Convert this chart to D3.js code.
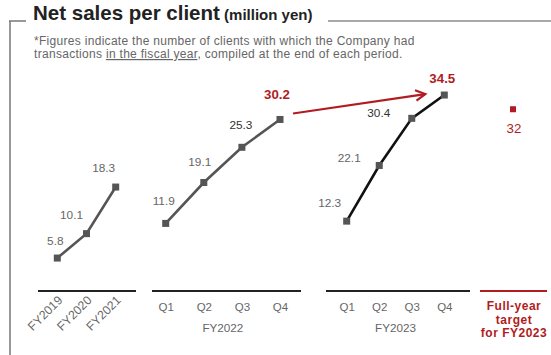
<!DOCTYPE html>
<html>
<head>
<meta charset="utf-8">
<script src="https://cdn.jsdelivr.net/npm/d3@7/dist/d3.min.js"></script>
<style>
  html, body { margin: 0; padding: 0; background: #fff; }
  svg { display: block; font-family: "Liberation Sans", Arial, Helvetica, sans-serif; }
</style>
</head>
<body>
<svg id="chart" width="551" height="355"></svg>
<script>
// Net sales per client (million yen)
const annualCats = ["FY2019", "FY2020", "FY2021"];
const annualValues = [5.8, 10.1, 18.3];

const quarterCats = ["Q1", "Q2", "Q3", "Q4"];
const fy2022Values = [11.9, 19.1, 25.3, 30.2];
const fy2023Values = [12.3, 22.1, 30.4, 34.5];

const targetCats = ["Full-year target for FY2023"];
const targetValues = [32];

const groupLabels = ["FY2022", "FY2023"];

const RED = "#b01c22";
const GRAY = "#555";
const TEXT = "#666";

const svg = d3.select("#chart");

// ---- frame and heading ----
svg.append("line").attr("x1", 10).attr("x2", 10).attr("y1", 21).attr("y2", 355)
  .attr("stroke", "#999").attr("stroke-width", 2);
svg.append("line").attr("x1", 9).attr("x2", 26).attr("y1", 21).attr("y2", 21)
  .attr("stroke", "#777").attr("stroke-width", 1.5);
svg.append("line").attr("x1", 328).attr("x2", 551).attr("y1", 21).attr("y2", 21)
  .attr("stroke", "#555").attr("stroke-width", 1.2);

const title = svg.append("text").attr("x", 33).attr("y", 20)
  .attr("fill", "#222").attr("font-weight", "bold");
title.append("tspan").attr("font-size", "20.5px").text("Net sales per client");
title.append("tspan").attr("font-size", "15px").text(" (million yen)");

const note = svg.append("g").attr("fill", TEXT).attr("font-size", "12px")
  .attr("letter-spacing", "0.3px");
note.append("text").attr("x", 34).attr("y", 44.5)
  .text("*Figures indicate the number of clients with which the Company had");
const note2 = note.append("text").attr("x", 34).attr("y", 58);
note2.append("tspan").text("transactions ");
note2.append("tspan").attr("text-decoration", "underline").text("in the fiscal year");
note2.append("tspan").text(", compiled at the end of each period.");

// ---- scales ----
const y = d3.scaleLinear().domain([0, 40]).range([291, 291 - 40 * 5.68]);

const xAnnual = d3.scalePoint().domain(annualCats).range([57.3, 115.7]);
const x2022 = d3.scalePoint().domain(quarterCats).range([165.7, 280]);
const x2023 = d3.scalePoint().domain(quarterCats).range([346.7, 444.3]);
const xTarget = d3.scalePoint().domain(targetCats).range([513, 513]);

const axisY = 291;

// ---- axis baselines ----
const baselines = [
  { x1: 38, x2: 136, color: "#222" },
  { x1: 152, x2: 301, color: "#222" },
  { x1: 326, x2: 470, color: "#222" },
  { x1: 480, x2: 547, color: RED }
];
svg.append("g").selectAll("line").data(baselines).join("line")
  .attr("x1", d => d.x1).attr("x2", d => d.x2)
  .attr("y1", axisY).attr("y2", axisY)
  .attr("stroke", d => d.color).attr("stroke-width", 2);

// ---- category labels ----
svg.append("g").selectAll("text").data(annualCats).join("text")
  .attr("transform", d => `translate(${xAnnual(d) + 6},${axisY + 10}) rotate(-45)`)
  .attr("text-anchor", "end").attr("font-size", "12.3px").attr("fill", TEXT)
  .text(d => d);

function quarterAxis(scale, label) {
  const g = svg.append("g").attr("transform", `translate(0,${axisY + 8})`)
    .call(d3.axisBottom(scale).tickSize(0).tickPadding(4));
  g.select(".domain").remove();
  g.selectAll("text").attr("font-size", "11.5px").attr("fill", TEXT)
    .attr("font-family", null);
  const ext = scale.range();
  svg.append("text").attr("x", (ext[0] + ext[1]) / 2).attr("y", axisY + 41)
    .attr("text-anchor", "middle").attr("font-size", "11.7px").attr("fill", TEXT)
    .text(label);
}
quarterAxis(x2022, groupLabels[0]);
quarterAxis(x2023, groupLabels[1]);

// target caption, one text per line
["Full-year", "target", "for FY2023"].forEach((s, i) => {
  svg.append("text").attr("x", xTarget(targetCats[0]) + 1)
    .attr("y", axisY + 19 + i * 13.6)
    .attr("text-anchor", "middle").attr("font-size", "12px")
    .attr("letter-spacing", "0.5px")
    .attr("font-weight", "bold").attr("fill", RED).text(s);
});

// ---- series ----
function series(cats, values, scale, lineColor) {
  const pts = cats.map((c, i) => [scale(c), y(values[i])]);
  svg.append("path").attr("d", d3.line()(pts))
    .attr("fill", "none").attr("stroke", lineColor).attr("stroke-width", 2.6);
  svg.append("g").selectAll("rect").data(pts).join("rect")
    .attr("x", d => d[0] - 3.5).attr("y", d => d[1] - 3.5)
    .attr("width", 7).attr("height", 7).attr("fill", GRAY);
  return pts;
}
const pA = series(annualCats, annualValues, xAnnual, GRAY);
const pB = series(quarterCats, fy2022Values, x2022, GRAY);
const pC = series(quarterCats, fy2023Values, x2023, "#111");

// target marker
const tp = [xTarget(targetCats[0]), y(targetValues[0])];
svg.append("rect").attr("x", tp[0] - 3).attr("y", tp[1] - 3)
  .attr("width", 6).attr("height", 6).attr("fill", RED);

// ---- value labels ----
const labelOffsets = {
  annual: [[-2, -13], [-15, -15], [-12, -15]],
  fy2022: [[-2, -18], [-4, -17], [-1, -18], [-3, -20]],
  fy2023: [[-17, -14], [-30, -3], [-33, -1], [-2, -12]]
};
function valueLabels(pts, values, offs, styleFn) {
  pts.forEach((p, i) => {
    const t = svg.append("text").attr("x", p[0] + offs[i][0]).attr("y", p[1] + offs[i][1])
      .attr("text-anchor", "middle").attr("font-size", "11.8px")
      .attr("fill", TEXT).text(values[i]);
    if (styleFn) styleFn(t, i);
  });
}
const emphasizeLast = n => (t, i) => {
  if (i === n - 1) t.attr("fill", RED).attr("font-weight", "bold").attr("font-size", "13.3px");
  else if (i === n - 2) t.attr("fill", "#333");
};
valueLabels(pA, annualValues, labelOffsets.annual);
valueLabels(pB, fy2022Values, labelOffsets.fy2022, emphasizeLast(4));
valueLabels(pC, fy2023Values, labelOffsets.fy2023, emphasizeLast(4));

svg.append("text").attr("x", tp[0] + 1).attr("y", tp[1] + 24)
  .attr("text-anchor", "middle").attr("font-size", "13.3px").attr("fill", RED)
  .text(targetValues[0]);

// ---- growth arrow from FY2022 Q4 to FY2023 Q4 ----
const a0 = [pB[3][0] + 13, pB[3][1] - 6];
const a1 = [pC[3][0] - 19, pC[3][1] - 1];
svg.append("line").attr("x1", a0[0]).attr("y1", a0[1]).attr("x2", a1[0]).attr("y2", a1[1])
  .attr("stroke", RED).attr("stroke-width", 2.2);
const ang = Math.atan2(a1[1] - a0[1], a1[0] - a0[0]);
const hl = 11, spread = 0.5;
const head = [
  [a1[0] - hl * Math.cos(ang - spread), a1[1] - hl * Math.sin(ang - spread)],
  a1,
  [a1[0] - hl * Math.cos(ang + spread), a1[1] - hl * Math.sin(ang + spread)]
];
svg.append("path").attr("d", d3.line()(head)).attr("fill", "none")
  .attr("stroke", RED).attr("stroke-width", 2.2).attr("stroke-linejoin", "miter");
</script>
</body>
</html>
